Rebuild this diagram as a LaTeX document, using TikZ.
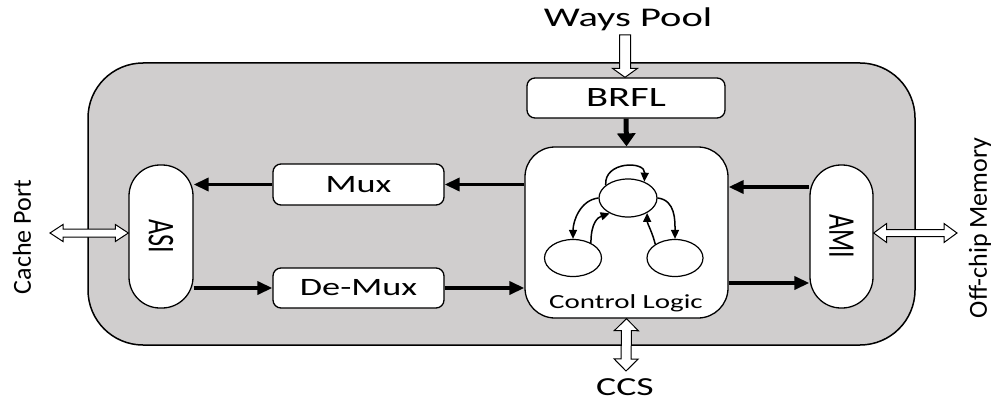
\documentclass[tikz,border=0pt]{standalone}
\usepackage{fontspec}
\setmainfont{Carlito}
\usepackage{graphicx}
\usetikzlibrary{arrows.meta,calc,shapes.geometric}
\definecolor{panel}{RGB}{208,206,206}
% widened and heightened text
\newcommand\wide[1]{\scalebox{1.45}[1]{#1}}
\newcommand\tall[1]{\scalebox{1}[1.45]{#1}}
% single-headed hollow arrow: start, end, half shaft, half head, head length
\newcommand\hollowone[5]{%
  \coordinate (hh) at ($(#2)!#5!(#1)$);
  \path[hollow] ($(#1)!#3!90:(#2)$) -- ($(hh)!#3!90:(#2)$) -- ($(hh)!#4!90:(#2)$)
    -- (#2) -- ($(hh)!#4!-90:(#2)$) -- ($(hh)!#3!-90:(#2)$) -- ($(#1)!#3!-90:(#2)$) -- cycle;
}
% double-headed hollow arrow
\newcommand\hollowtwo[5]{%
  \coordinate (ha) at ($(#1)!#5!(#2)$);
  \coordinate (hb) at ($(#2)!#5!(#1)$);
  \path[hollow] (#1) -- ($(ha)!#4!90:(#2)$) -- ($(ha)!#3!90:(#2)$) -- ($(hb)!#3!90:(#2)$)
    -- ($(hb)!#4!90:(#2)$) -- (#2) -- ($(hb)!#4!-90:(#2)$) -- ($(hb)!#3!-90:(#2)$)
    -- ($(ha)!#3!-90:(#2)$) -- ($(ha)!#4!-90:(#2)$) -- cycle;
}
\begin{document}
\begin{tikzpicture}[x=1pt,y=-1pt,
  panelbox/.style={draw=black, line width=1.5pt, fill=panel, rounded corners=55pt, inner sep=0},
  block/.style={draw=black, line width=1.3pt, fill=white, rounded corners=8pt, inner sep=0},
  pill/.style={draw=black, line width=1.3pt, fill=white, rounded corners=31pt,
    minimum width=64pt, minimum height=143pt, inner sep=0},
  bus/.style={line width=3.5pt, -{Triangle[length=15pt,width=13pt]}},
  feed/.style={line width=5pt, -{Triangle[length=13pt,width=18pt]}},
  state/.style={ellipse, draw=black, line width=1.2pt, fill=white,
    minimum width=57pt, minimum height=37pt, inner sep=0},
  trans/.style={line width=1.5pt, -{Triangle[length=9pt,width=8pt]}},
  hollow/.style={draw=black, line width=1pt, fill=white, line join=miter},
  big/.style={font=\fontsize{26}{26}\selectfont, inner sep=0},
]
\useasboundingbox (0,0) rectangle (1003,401);

% enclosing panel
\node[panelbox, minimum width=827pt, minimum height=282pt] (panel) at (501.5,204) {};

% blocks
\node[block, minimum width=198pt, minimum height=40pt] (brfl) at (626,98)
  {\fontsize{28}{28}\selectfont\wide{BRFL}};
\node[block, rounded corners=30pt, minimum width=203pt, minimum height=171pt] (ctl) at (626.5,232.5) {};
\node[block, minimum width=171pt, minimum height=41pt] (mux) at (358.5,184.5)
  {\fontsize{25}{25}\selectfont\wide{Mux}};
\node[block, minimum width=171pt, minimum height=40pt] (demux) at (358.5,288)
  {\fontsize{25}{25}\selectfont\wide{De-Mux}};
\node[pill] (asi) at (161,236.5) {\fontsize{26}{26}\selectfont\rotatebox{-90}{\tall{ASI}}};
\node[pill, minimum width=63pt] (ami) at (841.5,236.5) {\fontsize{26}{26}\selectfont\rotatebox{-90}{\tall{AMI}}};

% state machine inside the control logic
\node[state, minimum width=58pt, minimum height=38pt] (s0) at (628,198) {};
\node[state] (s1) at (573,258) {};
\node[state, minimum width=56pt] (s2) at (675,258) {};
\node[anchor=base, inner sep=0] (ctltext) at (626,308) {\fontsize{20}{20}\selectfont\wide{Control Logic}};

\draw[trans] (s0.150) .. controls +(-2,-24) and +(1,-21) .. (s0.45);
\draw[trans] (s0.180) .. controls +(-18,2) and +(0,-18) .. (s1.north);
\draw[trans] (s1.40) .. controls +(0,-20) and +(-12,4) .. (s0.220);
\draw[trans] (s0.0) .. controls +(18,2) and +(0,-18) .. (s2.north);
\draw[trans] (s2.145) .. controls +(-3,-12) and +(0,10) .. (s0.-38);

% data paths
\draw[bus] (mux.east -| ctl.west) -- (mux.east);
\draw[bus] (mux.west) -- (mux.west -| asi.east);
\draw[bus] (demux.west -| asi.east) -- (demux.west);
\draw[bus] (demux.east) -- (demux.east -| ctl.west);
\draw[bus] ([yshift=49.5pt]ami.west) -- ([yshift=49.5pt]ami.west -| ctl.east);
\draw[bus] ([yshift=-46.5pt]ami.west -| ctl.east) -- ([yshift=-46.5pt]ami.west);
\draw[feed] (brfl.south) -- (ctl.north);

% external labels
\node[big, anchor=base] (ways) at (628,27) {\fontsize{27}{27}\selectfont\scalebox{1.5}[1]{Ways Pool}};
\node[big, anchor=base] (ccs) at (625,395) {\wide{CCS}};
\node[big, rotate=90] (cport) at (22,237) {Cache Port};
\node[big, rotate=90] (offchip) at (980,228) {Off-chip Memory};

% external interfaces
\coordinate (wpin) at (625,35);
\coordinate (wpout) at (brfl.north -| wpin);
\hollowone{wpin}{wpout}{5.5pt}{12.5pt}{9pt}
\coordinate (ccsin) at (ctl.south);
\coordinate (ccsout) at (626,371);
\hollowtwo{ccsin}{ccsout}{5pt}{12pt}{12pt}
\coordinate (cpin) at (50,233);
\coordinate (cpout) at (cpin -| asi.west);
\hollowtwo{cpin}{cpout}{4pt}{8.5pt}{13pt}
\coordinate (ocin) at (957,233);
\coordinate (ocout) at (ocin -| ami.east);
\hollowtwo{ocout}{ocin}{3.5pt}{9.5pt}{13pt}
\end{tikzpicture}
\end{document}
